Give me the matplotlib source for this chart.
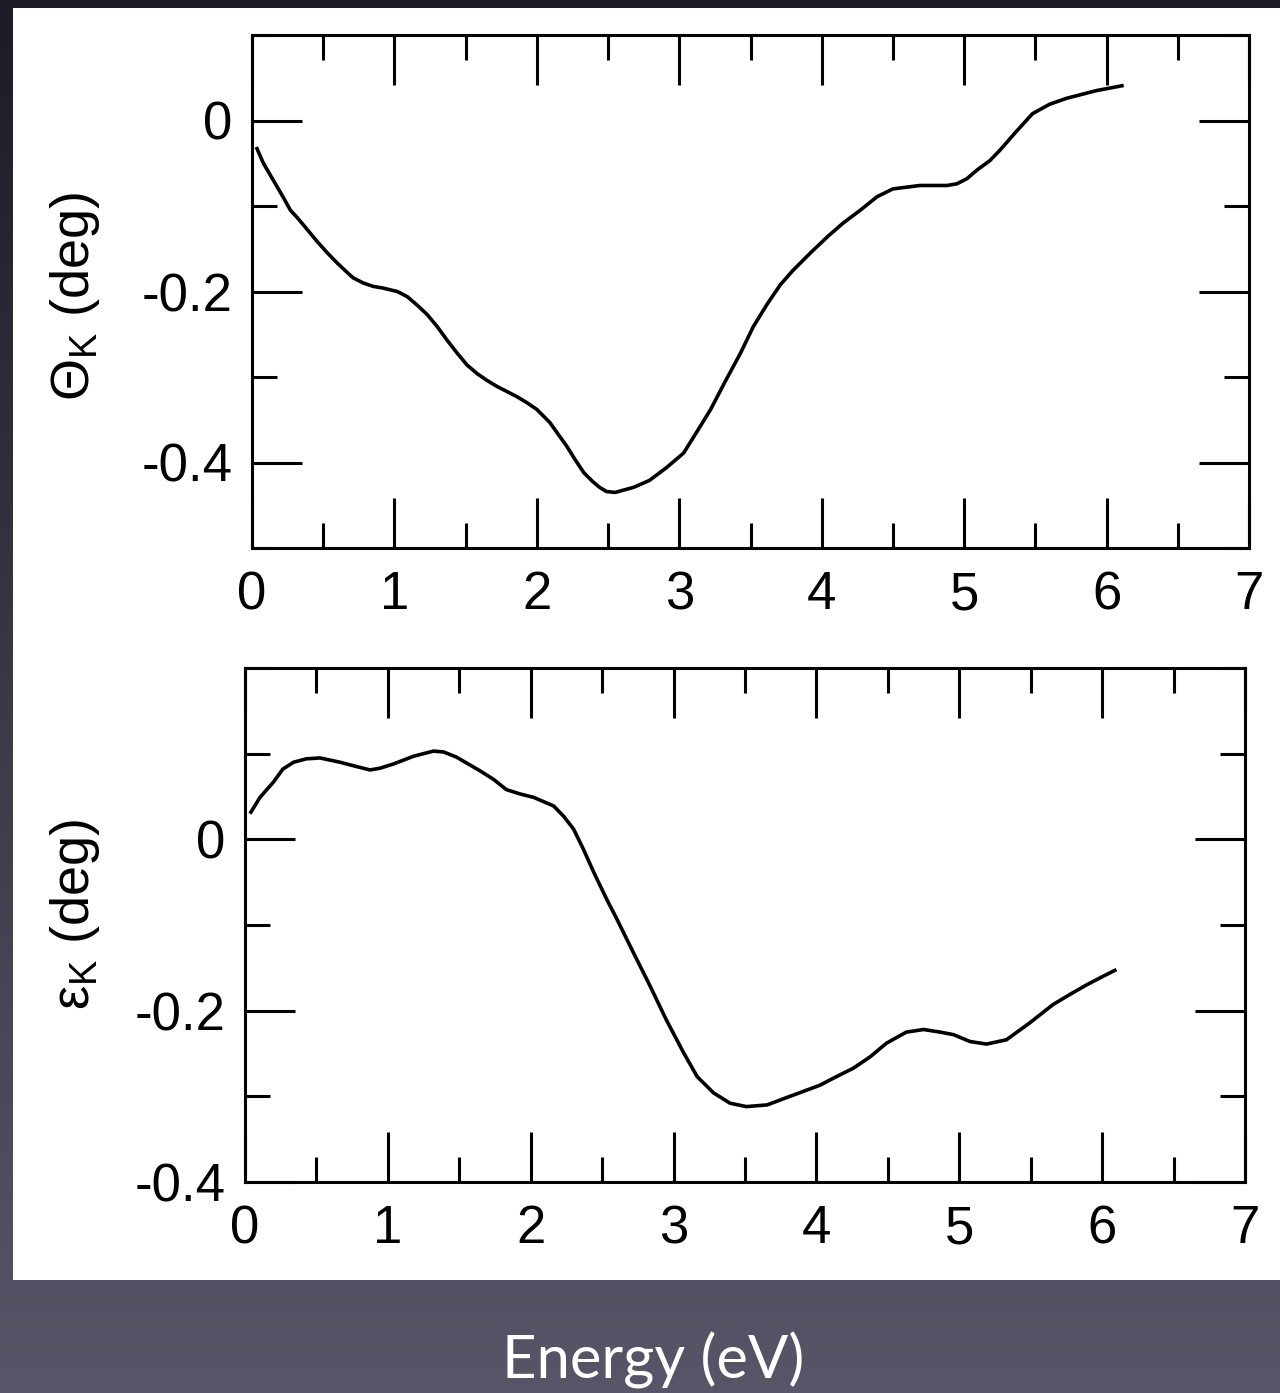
import numpy as np
import matplotlib
matplotlib.use("Agg")
import matplotlib.pyplot as plt
from matplotlib.ticker import MultipleLocator, FixedLocator

plt.rcParams['font.family'] = ['Liberation Sans', 'DejaVu Sans']
plt.rcParams['mathtext.fontset'] = 'custom'
plt.rcParams['mathtext.rm'] = 'Liberation Sans'
plt.rcParams['mathtext.it'] = 'Liberation Sans:italic'

# Kerr rotation Theta_K (deg) vs photon energy (eV)
theta_energy = [0.03, 0.08, 0.15, 0.22, 0.27, 0.32, 0.39, 0.46, 0.53, 0.60, 0.67, 0.71,
                0.78, 0.85, 0.92, 1.02, 1.09, 1.16, 1.23, 1.30, 1.37, 1.44, 1.51, 1.58,
                1.65, 1.72, 1.79, 1.86, 1.93, 2.00, 2.09, 2.15, 2.21, 2.27, 2.33, 2.39,
                2.44, 2.49, 2.55, 2.68, 2.79, 2.91, 3.03, 3.12, 3.22, 3.32, 3.43, 3.52,
                3.62, 3.71, 3.80, 3.92, 4.04, 4.15, 4.27, 4.39, 4.50, 4.69, 4.78, 4.88,
                4.95, 5.02, 5.09, 5.18, 5.25, 5.36, 5.48, 5.60, 5.72, 5.93, 6.12]
theta_k = [-0.031, -0.050, -0.070, -0.090, -0.105, -0.114, -0.128, -0.142, -0.155, -0.167,
           -0.178, -0.184, -0.190, -0.194, -0.196, -0.200, -0.206, -0.216, -0.227, -0.241,
           -0.257, -0.272, -0.286, -0.296, -0.304, -0.311, -0.317, -0.323, -0.330, -0.338,
           -0.353, -0.367, -0.381, -0.397, -0.412, -0.422, -0.429, -0.434, -0.435, -0.429,
           -0.421, -0.406, -0.389, -0.365, -0.338, -0.306, -0.272, -0.241, -0.214, -0.192,
           -0.175, -0.155, -0.136, -0.120, -0.105, -0.089, -0.080, -0.076, -0.076, -0.076,
           -0.074, -0.068, -0.058, -0.047, -0.035, -0.014, 0.008, 0.019, 0.026, 0.035, 0.041]

# Kerr ellipticity epsilon_K (deg) vs photon energy (eV)
eps_energy = [0.035, 0.105, 0.20, 0.265, 0.34, 0.43, 0.525, 0.665, 0.78, 0.875, 0.945, 1.04,
              1.18, 1.32, 1.39, 1.48, 1.645, 1.74, 1.83, 1.925, 2.02, 2.16, 2.23, 2.30,
              2.37, 2.44, 2.535, 2.60, 2.715, 2.835, 2.95, 3.07, 3.165, 3.28, 3.395, 3.51,
              3.655, 3.815, 4.025, 4.14, 4.26, 4.375, 4.49, 4.63, 4.75, 4.865, 4.96, 5.075,
              5.19, 5.33, 5.495, 5.655, 5.775, 5.89, 6.005, 6.10]
eps_k = [0.030, 0.049, 0.067, 0.082, 0.090, 0.094, 0.095, 0.090, 0.085, 0.081, 0.083, 0.088,
         0.097, 0.103, 0.102, 0.096, 0.080, 0.070, 0.058, 0.053, 0.049, 0.039, 0.027, 0.012,
         -0.012, -0.038, -0.071, -0.092, -0.131, -0.171, -0.211, -0.249, -0.277, -0.296,
         -0.308, -0.312, -0.310, -0.300, -0.287, -0.277, -0.267, -0.254, -0.238, -0.225,
         -0.222, -0.225, -0.228, -0.236, -0.239, -0.234, -0.214, -0.193, -0.181, -0.170,
         -0.160, -0.152]

x_ticks = [0, 1, 2, 3, 4, 5, 6, 7]
y_ticks = [-0.4, -0.2, 0]
y_tick_labels = ['-0.4', '-0.2', '0']

W, H = 1280, 1393
fig = plt.figure(figsize=(W / 100, H / 100), dpi=100)

# dark slide-style backdrop with a vertical gradient
bg = fig.add_axes([0, 0, 1, 1], zorder=-10)
grad = np.linspace(0, 1, 256)[:, None]
c_top = np.array([28, 28, 38]) / 255
c_bot = np.array([86, 86, 104]) / 255
img = c_top[None, None, :] * (1 - grad[..., None]) + c_bot[None, None, :] * grad[..., None]
img = np.repeat(img, 2, axis=1)
bg.imshow(img, aspect='auto', extent=[0, 1, 0, 1], origin='upper')
bg.set_xlim(0, 1)
bg.set_ylim(0, 1)
bg.axis('off')

# white panel holding the two graphs
panel = plt.Rectangle((13 / W, 1 - 1280 / H), 1 - 13 / W, (1280 - 8) / H,
                      transform=fig.transFigure, facecolor='white', edgecolor='none', zorder=-5)
fig.patches.append(panel)

lw_axes = 2.2
lw_curve = 2.6
ax1 = fig.add_axes([252 / W, 1 - 548 / H, 997 / W, 513 / H])
ax2 = fig.add_axes([245 / W, 1 - 1182 / H, 1000 / W, 514 / H])

for ax, xs, ys, ylim, ylab in [
        (ax1, theta_energy, theta_k, (-0.5, 0.1), r'$\Theta_{\mathrm{K}}$ (deg)'),
        (ax2, eps_energy, eps_k, (-0.4, 0.2), '$\\mathrm{ε}_{\\mathrm{K}}$ (deg)')]:
    ax.plot(xs, ys, color='black', lw=lw_curve, solid_joinstyle='round',
            solid_capstyle='butt')
    ax.set_xlim(0, 7)
    ax.set_ylim(*ylim)
    ax.xaxis.set_major_locator(FixedLocator(x_ticks))
    ax.xaxis.set_minor_locator(MultipleLocator(0.5))
    ax.yaxis.set_major_locator(FixedLocator(y_ticks))
    ax.yaxis.set_minor_locator(MultipleLocator(0.1))
    ax.set_yticklabels(y_tick_labels)
    ax.set_xticklabels([str(t) for t in x_ticks])
    ax.tick_params(which='both', direction='in', top=True, right=True, width=lw_axes,
                   labelsize=38, color='black')
    ax.tick_params(which='major', length=36)
    ax.tick_params(which='minor', length=18)
    ax.tick_params(axis='x', which='major', pad=16)
    ax.tick_params(axis='y', which='major', pad=14)
    for s in ax.spines.values():
        s.set_linewidth(lw_axes)
    ax.set_facecolor('white')
    ax.set_ylabel(ylab, fontsize=39, va='center')

ax1.yaxis.set_label_coords((75 - 252) / 997, 0.49)
ax2.yaxis.set_label_coords((75 - 245) / 1000, 0.52)

fig.text(653 / W, 1 - 1360 / H, 'Energy (eV)', color='white', fontsize=43,
         family=['Lato', 'DejaVu Sans'], ha='center', va='center')

fig.savefig('out.png', dpi=100)
